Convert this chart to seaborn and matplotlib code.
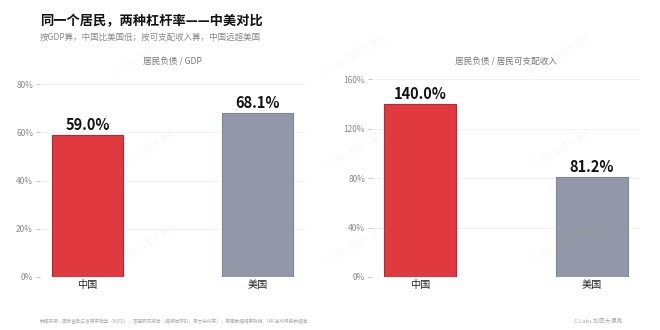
import matplotlib
matplotlib.use("Agg")
import matplotlib.pyplot as plt
import seaborn as sns
import pandas as pd
from matplotlib.ticker import FuncFormatter

countries = ["中国", "美国"]
debt_to_gdp = [59.0, 68.1]
debt_to_income = [140.0, 81.2]
panel_titles = ["居民负债 / GDP", "居民负债 / 居民可支配收入"]
yticks_gdp = [0, 20, 40, 60, 80]
yticks_income = [0, 40, 80, 120, 160]

title = "同一个居民，两种杠杆率——中美对比"
subtitle = "按GDP算，中国比美国低；按可支配收入算，中国远超美国"
footer_left = "数据来源：国家金融与发展实验室（NIFD）、吉盛研究报告（据媒体转引，原文未核实）；美国数据据美联储、IMF全球债务数据库"
footer_right = "C Labs 加密大漂亮"
watermark = "C Labs 加密大漂亮"

sns.set_theme(style="white")
plt.rcParams['font.family'] = ['Noto Sans CJK SC', 'DejaVu Sans']

W, H = 660, 330
fig = plt.figure(figsize=(W / 100, H / 100), dpi=100)
fig.patch.set_facecolor("white")

palette = {"中国": "#E0393F", "美国": "#9398A8"}
edges = {"中国": "#B8282E", "美国": "#80869A"}

panels = [
    (debt_to_gdp, yticks_gdp, (0, 82.6), [40, 305]),
    (debt_to_income, yticks_income, (0, 161), [372, 640]),
]

for i, (vals, yt, ylim, xr) in enumerate(panels):
    ax = fig.add_axes([xr[0] / W, (H - 277) / H, (xr[1] - xr[0]) / W, 199 / H])
    df = pd.DataFrame({"country": countries, "value": vals})
    sns.barplot(data=df, x="country", y="value", hue="country", palette=palette,
                width=0.42, legend=False, ax=ax, saturation=1)
    for patch, c in zip(ax.patches, countries):
        patch.set_edgecolor(edges[c])
        patch.set_linewidth(0.8)
    for cont in ax.containers:
        ax.bar_label(cont, fmt="%.1f%%", padding=1.5, fontsize=10.5,
                     fontweight="bold", color="#111111")
    ax.set_xlim(-0.28, 1.28)
    ax.set_ylim(*ylim)
    ax.set_yticks(yt)
    ax.yaxis.set_major_formatter(FuncFormatter(lambda v, p: f"{v:.0f}%"))
    ax.tick_params(axis="y", length=3, width=0.6, color="#bbbbbb",
                   labelsize=6, labelcolor="#888888", pad=2, left=True)
    ax.tick_params(axis="x", length=0, labelsize=7.3, labelcolor="#222222", pad=2)
    ax.set_xlabel("")
    ax.set_ylabel("")
    for s in ax.spines.values():
        s.set_visible(False)
    ax.grid(axis="y", color="#f1f1f1", linewidth=0.7)
    ax.set_axisbelow(True)
    cx = (xr[0] + xr[1]) / 2
    fig.text(cx / W, 1 - 62 / H, panel_titles[i], ha="center", va="center",
             fontsize=6.2, color="#777777")

fig.text(40 / W, 1 - 21 / H, title, ha="left", va="center", fontsize=9.5,
         fontweight="bold", color="#111111")
fig.text(40 / W, 1 - 37 / H, subtitle, ha="left", va="center", fontsize=6.1,
         color="#888888")
fig.text(40 / W, 1 - 321 / H, footer_left, ha="left", va="center", fontsize=3.35,
         color="#aaaaaa")
fig.text(622 / W, 1 - 321 / H, footer_right, ha="right", va="center",
         fontsize=4.2, color="#aaaaaa")

for wx in [145, 355, 560]:
    for wy in [55, 150, 245]:
        fig.text(wx / W, 1 - wy / H, watermark, ha="center", va="center",
                 fontsize=6, color="#999999", alpha=0.08, rotation=30)

fig.savefig("out.png", dpi=100, facecolor="white")
